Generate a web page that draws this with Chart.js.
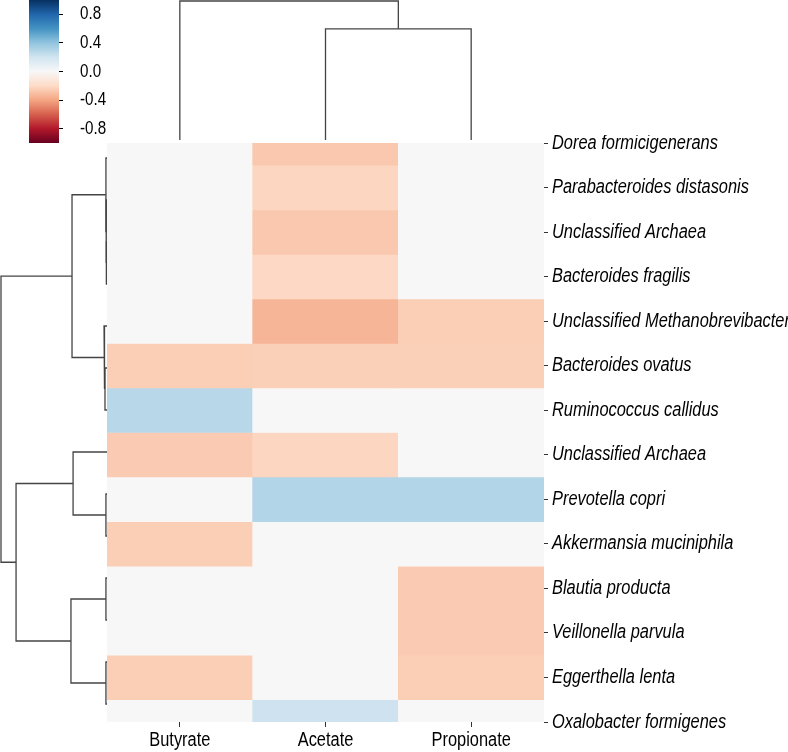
<!DOCTYPE html>
<html>
<head>
<meta charset="utf-8">
<script src="https://cdn.jsdelivr.net/npm/chart.js@4.4.1/dist/chart.umd.min.js"></script>
<style>
  body { margin: 0; background: #fff; }
  #wrap { position: relative; width: 788px; height: 752px; overflow: hidden; }
  #wrap canvas { position: absolute; }
</style>
</head>
<body>
<div id="wrap">
  <canvas id="colorbar" width="110" height="150" style="left:0;top:0"></canvas>
  <canvas id="topDendro" width="452" height="145" style="left:100px;top:0"></canvas>
  <canvas id="leftDendro" width="112" height="562" style="left:0;top:150px"></canvas>
  <canvas id="heat" width="688" height="617" style="left:100px;top:135px"></canvas>
</div>
<script>
// heatmap data (rows top to bottom)
var rowLabels = ["Dorea formicigenerans", "Parabacteroides distasonis", "Unclassified Archaea",
  "Bacteroides fragilis", "Unclassified Methanobrevibacter", "Bacteroides ovatus",
  "Ruminococcus callidus", "Unclassified Archaea", "Prevotella copri", "Akkermansia muciniphila",
  "Blautia producta", "Veillonella parvula", "Eggerthella lenta", "Oxalobacter formigenes"];
var colLabels = ["Butyrate", "Acetate", "Propionate"];
var butyrate   = [0, 0, 0, 0, 0, -0.25, 0.28, -0.26, 0, -0.25, 0, 0, -0.25, 0];
var acetate    = [-0.27, -0.22, -0.27, -0.21, -0.34, -0.24, 0, -0.22, 0.30, 0, 0, 0, 0, 0.21];
var propionate = [0, 0, 0, 0, -0.25, -0.24, 0, 0, 0.30, 0, -0.26, -0.26, -0.25, 0];

// colorbar
var cbMin = -1, cbMax = 1;
var cbTicks = [0.8, 0.4, 0.0, -0.4, -0.8];

// clustering: [childA, childB, height]; leaves are 0..n-1, new clusters n, n+1, ...
var rowLinkage = [
  [2, 3, 0.006], [1, 14, 0.008], [0, 15, 0.01],
  [5, 6, 0.019], [4, 17, 0.028], [16, 18, 0.33],
  [8, 9, 0.01], [7, 20, 0.32],
  [10, 11, 0.01], [12, 13, 0.01], [22, 23, 0.34],
  [21, 24, 0.858], [19, 25, 1.0]
];
var colLinkage = [[1, 2, 0.8], [0, 3, 1.0]];

// RdBu colour stops
var rdbu = ["#67001f", "#b2182b", "#d6604d", "#f4a582", "#fddbc7", "#f7f7f7",
            "#d1e5f0", "#92c5de", "#4393c3", "#2166ac", "#053061"];

function hexRgb(h) {
  return [parseInt(h.substr(1, 2), 16), parseInt(h.substr(3, 2), 16), parseInt(h.substr(5, 2), 16)];
}
function colorFor(v) {
  var t = (v - cbMin) / (cbMax - cbMin) * (rdbu.length - 1);
  var i = Math.max(0, Math.min(rdbu.length - 2, Math.floor(t)));
  var f = t - i;
  var a = hexRgb(rdbu[i]), b = hexRgb(rdbu[i + 1]);
  return "rgb(" + Math.round(a[0] + (b[0] - a[0]) * f) + "," + Math.round(a[1] + (b[1] - a[1]) * f) + "," + Math.round(a[2] + (b[2] - a[2]) * f) + ")";
}

// U-shaped segments for a dendrogram (pos = leaf coordinate, h = height)
function dendroSegments(linkage, nLeaves) {
  var pos = [], ht = [], segs = [];
  for (var i = 0; i < nLeaves; i++) { pos[i] = i; ht[i] = 0; }
  linkage.forEach(function (m, k) {
    var a = m[0], b = m[1], h = m[2];
    segs.push([[ht[a], pos[a]], [h, pos[a]], [h, pos[b]], [ht[b], pos[b]]]);
    pos[nLeaves + k] = (pos[a] + pos[b]) / 2;
    ht[nLeaves + k] = h;
  });
  return segs;
}

// no narrow font installed: squeeze the labels horizontally around their anchor
var narrowText = {
  id: "narrowText",
  beforeDraw: function (chart) {
    var ctx = chart.ctx, fill = CanvasRenderingContext2D.prototype.fillText;
    ctx.fillText = function (t, x, y) {
      this.save(); this.scale(0.82, 1); fill.call(this, t, x / 0.82, y); this.restore();
    };
  },
  afterDraw: function (chart) { delete chart.ctx.fillText; }
};
Chart.register(narrowText);

function noEdgePadding(s) { s.paddingTop = 0; s.paddingBottom = 0; s.paddingLeft = 0; s.paddingRight = 0; }

Chart.defaults.animation = false;
Chart.defaults.responsive = false;
Chart.defaults.devicePixelRatio = 1;
Chart.defaults.font.family = "'Liberation Sans', Arial, sans-serif";
Chart.defaults.color = "#000";
Chart.defaults.plugins.legend.display = false;
Chart.defaults.plugins.tooltip.enabled = false;

var lineColor = "#444";

// ---- heatmap
var columns = [butyrate, acetate, propionate];
var heatSets = rowLabels.map(function (name, r) {
  return {
    label: name,
    data: colLabels.map(function () { return [r - 0.5, r + 0.5]; }),
    backgroundColor: columns.map(function (col) { return colorFor(col[r]); }),
    borderWidth: 0
  };
});

new Chart(document.getElementById("heat"), {
  type: "bar",
  data: { labels: colLabels, datasets: heatSets },
  options: {
    layout: { padding: { left: 7, top: 8, right: 0, bottom: 0 } },
    datasets: { bar: { grouped: false, barPercentage: 1, categoryPercentage: 1 } },
    scales: {
      x: {
        position: "bottom",
        grid: { offset: false, drawOnChartArea: false, tickLength: 5, color: "#333" },
        border: { display: false },
        ticks: { font: { size: 20 }, padding: 1 },
        afterFit: function (s) { s.height = 30; noEdgePadding(s); }
      },
      y: {
        type: "linear", position: "right", reverse: true, min: 0, max: 13,
        grid: { drawOnChartArea: false, tickLength: 4, color: "#333" },
        border: { display: false },
        afterBuildTicks: function (s) { s.ticks = rowLabels.map(function (_, i) { return { value: i }; }); },
        ticks: {
          autoSkip: false, padding: 4,
          font: { size: 20, style: "italic" },
          callback: function (v) { return rowLabels[v]; }
        },
        afterFit: function (s) { s.width = 244; noEdgePadding(s); }
      }
    }
  }
});

// ---- left dendrogram
new Chart(document.getElementById("leftDendro"), {
  type: "scatter",
  data: {
    datasets: dendroSegments(rowLinkage, rowLabels.length).map(function (s) {
      return {
        data: s.map(function (p) { return { x: p[0], y: p[1] }; }),
        showLine: true, borderColor: lineColor, borderWidth: 1.3, pointRadius: 0, clip: false
      };
    })
  },
  options: {
    layout: { padding: { left: 1, right: 5, top: 8, bottom: 8 } },
    scales: {
      x: { display: false, min: 0, max: 1, reverse: true },
      y: { display: false, min: 0, max: rowLabels.length - 1, reverse: true }
    }
  }
});

// ---- top dendrogram
new Chart(document.getElementById("topDendro"), {
  type: "scatter",
  data: {
    datasets: dendroSegments(colLinkage, colLabels.length).map(function (s) {
      return {
        data: s.map(function (p) { return { x: p[1], y: p[0] }; }),
        showLine: true, borderColor: lineColor, borderWidth: 1.3, pointRadius: 0, clip: false
      };
    })
  },
  options: {
    layout: { padding: { left: 7, right: 8, top: 1, bottom: 5 } },
    scales: {
      x: { display: false, min: -0.5, max: colLabels.length - 0.5 },
      y: { display: false, min: 0, max: 1 }
    }
  }
});

// ---- colorbar
new Chart(document.getElementById("colorbar"), {
  type: "bar",
  data: {
    labels: [""],
    datasets: [{
      data: [[cbMin, cbMax]],
      borderWidth: 0,
      backgroundColor: function (ctx) {
        var chart = ctx.chart, ys = chart.scales.y;
        if (!chart.chartArea || !ys) return "#f7f7f7";
        var g = chart.ctx.createLinearGradient(0, ys.getPixelForValue(cbMin), 0, ys.getPixelForValue(cbMax));
        rdbu.forEach(function (c, i) { g.addColorStop(i / (rdbu.length - 1), c); });
        return g;
      }
    }]
  },
  options: {
    layout: { padding: { left: 29, top: 0, right: 0, bottom: 7 } },
    datasets: { bar: { barPercentage: 1, categoryPercentage: 1 } },
    scales: {
      x: { display: false },
      y: {
        position: "right", min: cbMin, max: cbMax,
        grid: { drawOnChartArea: false, tickLength: 4, color: "#000" },
        border: { display: false },
        afterBuildTicks: function (s) { s.ticks = cbTicks.map(function (v) { return { value: v }; }); },
        ticks: {
          crossAlign: "near", padding: 17, font: { size: 18.5 },
          callback: function (v) { return v.toFixed(1); }
        },
        afterFit: function (s) { s.width = 51; noEdgePadding(s); }
      }
    }
  }
});
</script>
</body>
</html>
